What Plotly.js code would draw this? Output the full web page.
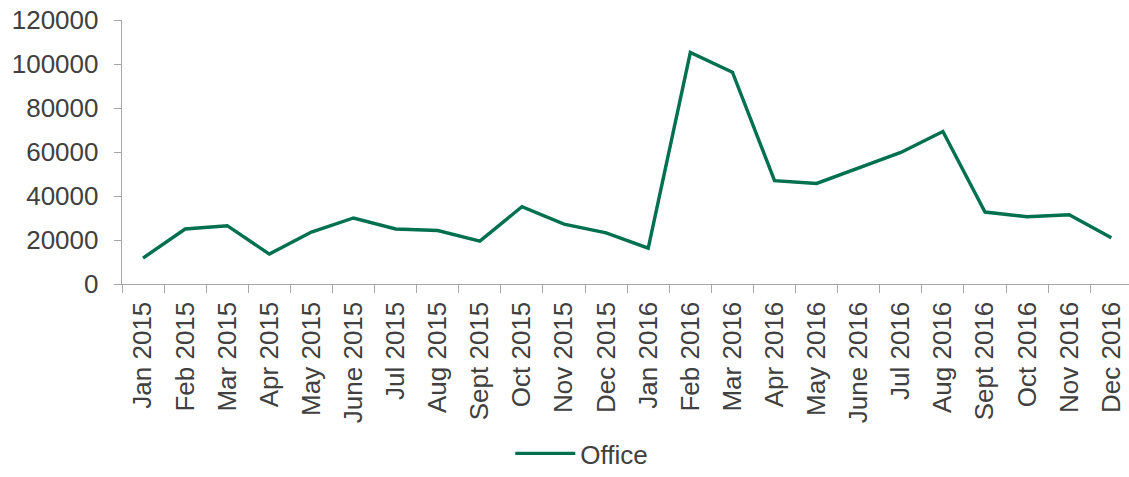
<!DOCTYPE html>
<html>
<head>
<meta charset="utf-8">
<script src="https://cdn.plot.ly/plotly-3.0.1.min.js"></script>
<style>html,body{margin:0;padding:0;background:#fff;}#chart{width:1129px;height:477px;}</style>
</head>
<body>
<div id="chart"></div>
<script>
const months = ["Jan 2015","Feb 2015","Mar 2015","Apr 2015","May 2015","June 2015","Jul 2015","Aug 2015","Sept 2015","Oct 2015","Nov 2015","Dec 2015","Jan 2016","Feb 2016","Mar 2016","Apr 2016","May 2016","June 2016","Jul 2016","Aug 2016","Sept 2016","Oct 2016","Nov 2016","Dec 2016"];
const office = [11800,25000,26500,13600,23600,30000,25000,24300,19500,35100,27200,23200,16300,105200,96300,47000,45700,52800,59800,69300,32700,30600,31500,21000];
const yTicks = [0,20000,40000,60000,80000,100000,120000];
const seriesName = "Office";
const lineColor = "#00704f";

const font = {family:"Liberation Sans, Arial, sans-serif", size:26, color:"#404040"};
Plotly.newPlot("chart", [{
  x: months, y: office, type: "scatter", mode: "lines", name: seriesName,
  line: {color: lineColor, width: 3.4}
}], {
  width: 1129, height: 477,
  margin: {l:121.5, r:0, t:20, b:193},
  paper_bgcolor: "#fff", plot_bgcolor: "#fff",
  font: font,
  showlegend: true,
  legend: {orientation: "h", xref: "container", yref: "container", x: 0.452, xanchor: "left", y: 0, yanchor: "bottom",
           itemwidth: 60, font: font, bgcolor: "rgba(0,0,0,0)"},
  xaxis: {type: "category", range: [-0.5, 23.42], tickangle: -90, showgrid: false, showline: true, linecolor: "#a6a6a6", linewidth: 1.3,
          ticks: "outside", tickson: "boundaries", ticklen: 8, tickcolor: "#a6a6a6", tickfont: font, zeroline: false, ticklabelstandoff: 6},
  yaxis: {range: [0, 120000], tickvals: yTicks, ticktext: yTicks.map(String), showgrid: false, showline: true, linecolor: "#a6a6a6", linewidth: 1.3,
          ticks: "outside", ticklen: 7, tickcolor: "#a6a6a6", tickfont: font, zeroline: false, ticklabelstandoff: 10}
}, {displayModeBar: false, staticPlot: true});
</script>
</body>
</html>
